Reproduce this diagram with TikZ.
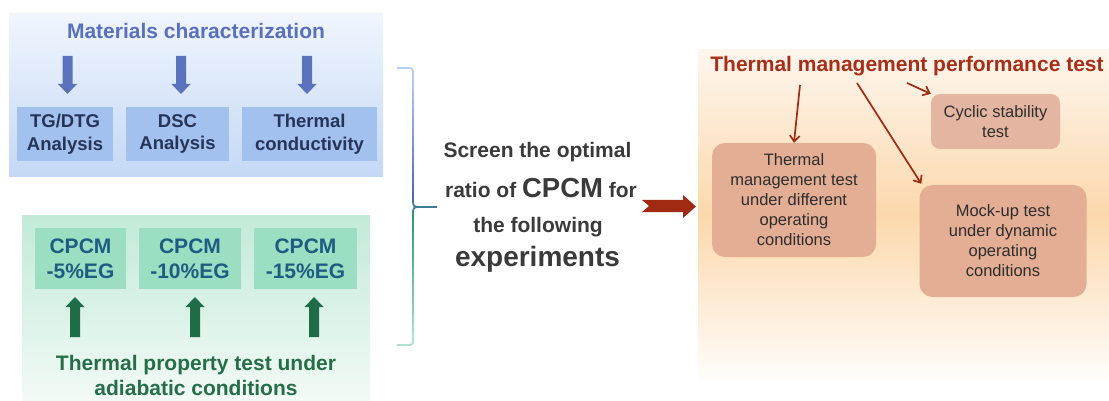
\documentclass[tikz,border=0pt]{standalone}
\usepackage{fontspec}
\setmainfont{Liberation Sans}
\usetikzlibrary{arrows.meta}
\definecolor{bluePanelTop}{RGB}{240,245,253}
\definecolor{bluePanelBot}{RGB}{196,216,245}
\definecolor{blueTitle}{RGB}{88,112,190}
\definecolor{blueArrow}{RGB}{90,114,187}
\definecolor{blueBox}{RGB}{162,193,238}
\definecolor{blueText}{RGB}{38,52,88}
\definecolor{greenPanelTop}{RGB}{194,234,215}
\definecolor{greenPanelBot}{RGB}{242,250,246}
\definecolor{greenBox}{RGB}{156,222,194}
\definecolor{cpcmText}{RGB}{30,92,130}
\definecolor{greenText}{RGB}{38,110,72}
\definecolor{greenArrow}{RGB}{30,108,72}
\definecolor{midText}{RGB}{58,58,58}
\definecolor{redArrow}{RGB}{160,42,18}
\definecolor{redTitle}{RGB}{168,46,24}
\definecolor{orTop}{RGB}{254,246,238}
\definecolor{orMid}{RGB}{251,216,172}
\definecolor{orBot}{RGB}{255,253,250}
\definecolor{boxFill}{RGB}{227,174,148}
\definecolor{cycFill}{RGB}{228,182,162}
\definecolor{boxText}{RGB}{45,45,45}
\definecolor{brkBl}{RGB}{182,206,242}
\definecolor{brkB}{RGB}{78,100,182}
\definecolor{brkT}{RGB}{62,125,150}
\definecolor{brkG}{RGB}{40,156,104}
\definecolor{brkGl}{RGB}{172,226,206}
\begin{document}
\begin{tikzpicture}[x=1pt,y=-1pt,
  bluebox/.style={fill=blueBox,inner sep=0pt,minimum width=#1,minimum height=54pt,align=center,
    text=blueText,font=\fontsize{18.5}{22.5}\selectfont\bfseries},
  cpcmbox/.style={fill=greenBox,inner sep=0pt,minimum width=#1,minimum height=61pt,align=center,
    text=cpcmText,font=\fontsize{21}{25}\selectfont\bfseries},
  midline/.style={anchor=base,text=midText,font=\fontsize{21}{25}\selectfont\bfseries},
  orbox/.style={fill=boxFill,rounded corners=13pt,inner sep=0pt,align=center,text=boxText,
    font=\fontsize{16.5}{20}\selectfont},
  thinred/.style={draw=redArrow,line width=1.7pt,-{Straight Barb[length=6pt,width=10pt]}},
  brk/.style={line width=1.8pt}
]
\useasboundingbox (0,0) rectangle (1109,401);
% ---------- panels ----------
\path[shading=axis,top color=bluePanelTop,bottom color=bluePanelBot] (9,14) rectangle (383,177);
\path[shading=axis,top color=greenPanelTop,bottom color=greenPanelBot] (22,215) rectangle (370,400);
\path[shading=axis,top color=orTop,bottom color=orBot,middle color=orMid] (698,50) rectangle (1109,380);
% ---------- materials characterization ----------
\node[anchor=base,text=blueTitle,font=\fontsize{21}{25}\selectfont\bfseries] (mc) at (196,39) {Materials characterization};
\foreach \x in {67.5,181,307}{
  \fill[blueArrow] (\x-5,56) -- (\x+5,56) -- (\x+5,84) -- (\x+9.5,84) -- (\x,94) -- (\x-9.5,84) -- (\x-5,84) -- cycle;
}
\node[bluebox=96pt] (tg) at (65,134) {TG/DTG\\Analysis};
\node[bluebox=103pt] (dsc) at (177.5,134) {DSC\\Analysis};
\node[bluebox=135pt] (tc) at (309.5,134) {Thermal\\conductivity};
% ---------- thermal property test ----------
\node[cpcmbox=91pt] (c5) at (80.5,258.5) {CPCM\\-5\%EG};
\node[cpcmbox=102pt] (c10) at (190,258.5) {CPCM\\-10\%EG};
\node[cpcmbox=103pt] (c15) at (305.5,258.5) {CPCM\\-15\%EG};
\foreach \x in {75,195,314}{
  \fill[greenArrow] (\x-5,337) -- (\x+5,337) -- (\x+5,307) -- (\x+9.5,307) -- (\x,297) -- (\x-9.5,307) -- (\x-5,307) -- cycle;
}
\node[anchor=base,text=greenText,align=center,font=\fontsize{21}{25}\selectfont\bfseries] (tp) at (196,370) {Thermal property test under};
\node[anchor=base,text=greenText,font=\fontsize{21}{25}\selectfont\bfseries] (tp2) at (196,395) {adiabatic conditions};
% ---------- bracket ----------
\draw[brk,brkBl,rounded corners=3pt] (397,68) -- (413,68) -- (413,73);
\foreach \i in {0,...,13}{
  \pgfmathsetmacro{\ya}{72+\i*9.3}
  \pgfmathsetmacro{\yb}{\ya+9.5}
  \pgfmathtruncatemacro{\p}{100*\i/13}
  \draw[brk,brkB!\p!brkBl] (413,\ya) -- (413,\yb);
}
\draw[brk,brkT] (413,201) .. controls (413,206) and (414,207) .. (419,207) -- (437,207);
\draw[brk,brkT] (413,213) .. controls (413,208) and (414,207) .. (419,207);
\foreach \i in {0,...,13}{
  \pgfmathsetmacro{\ya}{212+\i*9.3}
  \pgfmathsetmacro{\yb}{\ya+9.5}
  \pgfmathtruncatemacro{\p}{100*\i/13}
  \draw[brk,brkGl!\p!brkG] (413,\ya) -- (413,\yb);
}
\draw[brk,brkGl,rounded corners=3pt] (413,338) -- (413,345) -- (397,345);
% ---------- middle text ----------
\node[midline] (m1) at (537.5,158) {Screen the optimal};
\node[midline] (m2) at (541,197) {ratio of {\fontsize{27.5}{30}\selectfont CPCM} for};
\node[midline] (m3) at (538,232) {the following};
\node[midline,font=\fontsize{28}{30}\selectfont\bfseries] (m4) at (537.5,266) {experiments};
\fill[redArrow] (642,200) -- (683,200) -- (683,195) -- (696,206.5) -- (683,218) -- (683,212) -- (642,212) -- (649,206) -- cycle;
% ---------- thermal management ----------
\node[anchor=base,text=redTitle,font=\fontsize{21}{25}\selectfont\bfseries] (tmp) at (907,72) {Thermal management performance test};
\node[orbox,fill=cycFill,rounded corners=9pt,minimum width=129pt,minimum height=55pt] (cyc) at (995.5,121.5) {Cyclic stability\\test};
\node[orbox,minimum width=164pt,minimum height=114pt] (tm) at (794,200) {Thermal\\management test\\under different\\operating\\conditions};
\node[orbox,minimum width=167pt,minimum height=112pt] (mock) at (1003,241) {Mock-up test\\under dynamic\\operating\\conditions};
\coordinate (s1) at (800,85);
\coordinate (s2) at (857,83);
\coordinate (s3) at (907,83);
\draw[thinred] (s1) -- (tm.north);
\draw[thinred] (s2) -- ([shift={(2,-1)}]mock.north west);
\draw[thinred] (s3) -- (cyc.north west);
\end{tikzpicture}
\end{document}
